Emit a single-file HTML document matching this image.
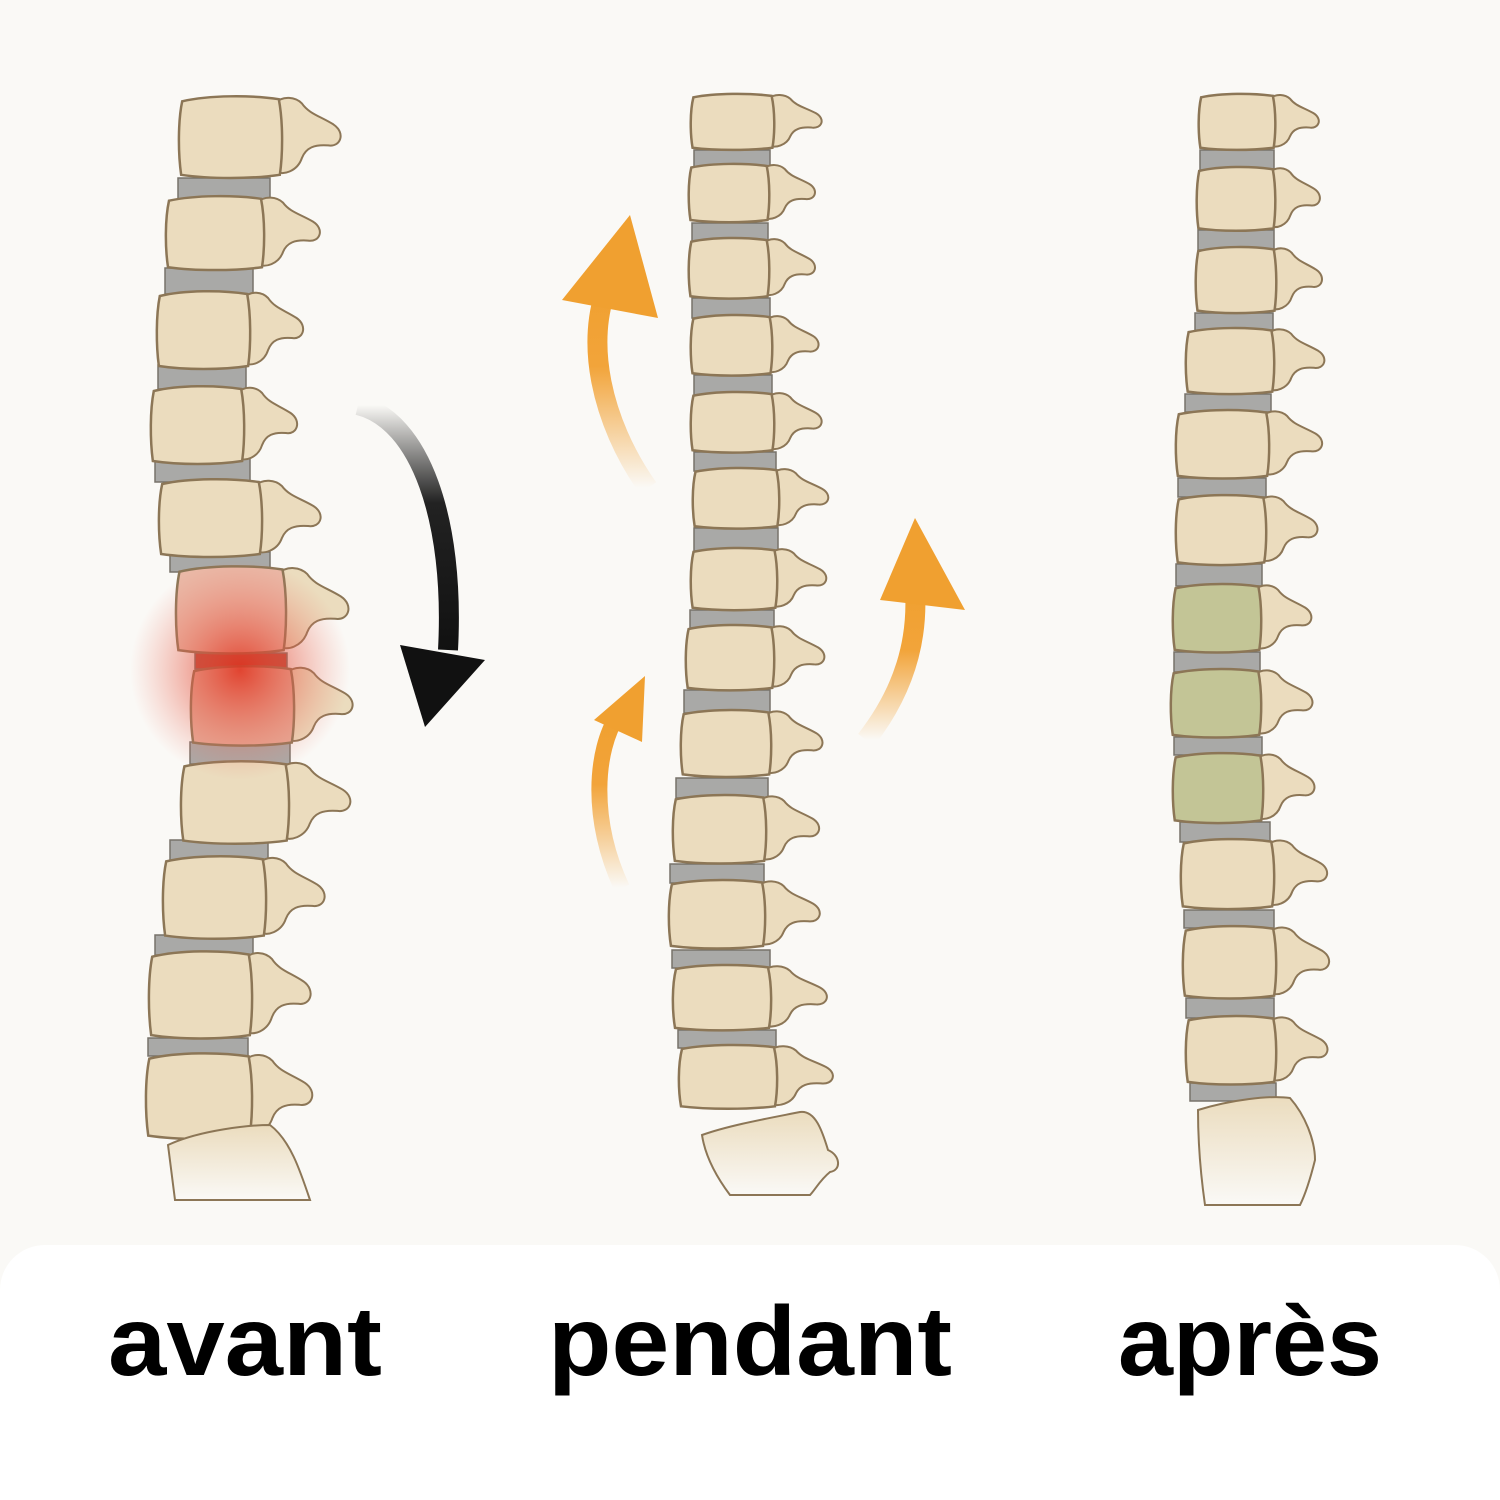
<!DOCTYPE html>
<html><head><meta charset="utf-8"><style>
html,body{margin:0;padding:0;background:#faf9f6;}
svg{display:block}
text{font-family:"Liberation Sans",sans-serif;font-weight:bold;fill:#000}
</style></head><body>
<svg width="1500" height="1500" viewBox="0 0 1500 1500" xmlns="http://www.w3.org/2000/svg">
<defs>
<path id="p" d="M92,8 C100,0 112,2 118,8 C125,18 135,20 148,28 C160,36 155,50 143,48 C130,47 122,50 118,60 C114,72 100,78 92,72 Z" fill="#ebdcbe" stroke="#8c7656" stroke-width="2" vector-effect="non-scaling-stroke"/>
<path id="b" d="M4,6 C30,0 70,0 96,4 C100,25 100,55 97,76 C70,80 30,80 3,76 C0,55 0,25 4,6 Z" stroke="#8c7656" stroke-width="2.5" vector-effect="non-scaling-stroke"/>
<radialGradient id="glow" cx="0.5" cy="0.5" r="0.5">
<stop offset="0" stop-color="#e0321e" stop-opacity="0.85"/>
<stop offset="0.6" stop-color="#e86450" stop-opacity="0.35"/>
<stop offset="1" stop-color="#f08070" stop-opacity="0"/>
</radialGradient>
<linearGradient id="fadeB" x1="0" y1="0" x2="0" y2="1">
<stop offset="0" stop-color="#111" stop-opacity="0"/>
<stop offset="0.4" stop-color="#222"/>
<stop offset="1" stop-color="#111"/>
</linearGradient>
<linearGradient id="fadeO" x1="0" y1="1" x2="0" y2="0">
<stop offset="0" stop-color="#f2a43a" stop-opacity="0"/>
<stop offset="0.6" stop-color="#f2a43a"/>
<stop offset="1" stop-color="#f0a030"/>
</linearGradient>
<linearGradient id="sacF" x1="0" y1="0" x2="0" y2="1">
<stop offset="0" stop-color="#ebdcbe"/>
<stop offset="1" stop-color="#faf9f6"/>
</linearGradient>
</defs>

<g fill="#a9a9a7" stroke="#77736a" stroke-width="1.5">
<rect x="178" y="178" width="92" height="22"/>
<rect x="165" y="268" width="88" height="26"/>
<rect x="158" y="365" width="88" height="24"/>
<rect x="155" y="458" width="95" height="24"/>
<rect x="170" y="552" width="100" height="20"/>
<rect x="195" y="653" width="92" height="16" fill="#b84838"/>
<rect x="190" y="742" width="100" height="22"/>
<rect x="170" y="840" width="98" height="20"/>
<rect x="155" y="935" width="98" height="20"/>
<rect x="148" y="1038" width="100" height="18"/>
</g>
<g>
<g transform="translate(178,95) scale(1.05,1.05)"><use href="#p"/><use href="#b" fill="#ebdcbe"/></g>
<g transform="translate(165,195) scale(1.0,0.95)"><use href="#p"/><use href="#b" fill="#ebdcbe"/></g>
<g transform="translate(156,290) scale(0.95,1.0)"><use href="#p"/><use href="#b" fill="#ebdcbe"/></g>
<g transform="translate(150,385) scale(0.95,1.0)"><use href="#p"/><use href="#b" fill="#ebdcbe"/></g>
<g transform="translate(158,478) scale(1.05,1.0)"><use href="#p"/><use href="#b" fill="#ebdcbe"/></g>
<g transform="translate(175,565) scale(1.12,1.12)"><use href="#p"/><use href="#b" fill="#eab8a6"/></g>
<g transform="translate(190,665) scale(1.05,1.02)"><use href="#p"/><use href="#b" fill="#e6ab98"/></g>
<g transform="translate(180,760) scale(1.1,1.06)"><use href="#p"/><use href="#b" fill="#ebdcbe"/></g>
<g transform="translate(162,855) scale(1.05,1.06)"><use href="#p"/><use href="#b" fill="#ebdcbe"/></g>
<g transform="translate(148,950) scale(1.05,1.12)"><use href="#p"/><use href="#b" fill="#ebdcbe"/></g>
<g transform="translate(145,1052) scale(1.08,1.1)"><use href="#p"/><use href="#b" fill="#ebdcbe"/></g>
</g>
<path d="M168,1145 C200,1130 250,1125 270,1125 C290,1140 300,1170 310,1200 L175,1200 Z" fill="url(#sacF)" stroke="#8c7656" stroke-width="2"/>
<circle cx="240" cy="670" r="110" fill="url(#glow)"/>

<g fill="#a9a9a7" stroke="#77736a" stroke-width="1.5">
<rect x="694" y="150" width="76" height="18"/>
<rect x="692" y="223" width="76" height="18"/>
<rect x="692" y="298" width="78" height="20"/>
<rect x="694" y="375" width="78" height="20"/>
<rect x="694" y="452" width="82" height="19"/>
<rect x="694" y="528" width="84" height="23"/>
<rect x="690" y="610" width="84" height="18"/>
<rect x="684" y="690" width="86" height="23"/>
<rect x="676" y="778" width="92" height="20"/>
<rect x="670" y="864" width="94" height="19"/>
<rect x="672" y="950" width="98" height="18"/>
<rect x="678" y="1030" width="98" height="18"/>
</g>
<g>
<g transform="translate(690,93) scale(0.85,0.72)"><use href="#p"/><use href="#b" fill="#ebdcbe"/></g>
<g transform="translate(688,163) scale(0.82,0.75)"><use href="#p"/><use href="#b" fill="#ebdcbe"/></g>
<g transform="translate(688,237) scale(0.82,0.78)"><use href="#p"/><use href="#b" fill="#ebdcbe"/></g>
<g transform="translate(690,314) scale(0.83,0.78)"><use href="#p"/><use href="#b" fill="#ebdcbe"/></g>
<g transform="translate(690,391) scale(0.85,0.78)"><use href="#p"/><use href="#b" fill="#ebdcbe"/></g>
<g transform="translate(692,467) scale(0.88,0.78)"><use href="#p"/><use href="#b" fill="#ebdcbe"/></g>
<g transform="translate(690,547) scale(0.88,0.8)"><use href="#p"/><use href="#b" fill="#ebdcbe"/></g>
<g transform="translate(685,624) scale(0.9,0.84)"><use href="#p"/><use href="#b" fill="#ebdcbe"/></g>
<g transform="translate(680,709) scale(0.92,0.86)"><use href="#p"/><use href="#b" fill="#ebdcbe"/></g>
<g transform="translate(672,794) scale(0.95,0.88)"><use href="#p"/><use href="#b" fill="#ebdcbe"/></g>
<g transform="translate(668,879) scale(0.98,0.88)"><use href="#p"/><use href="#b" fill="#ebdcbe"/></g>
<g transform="translate(672,964) scale(1.0,0.84)"><use href="#p"/><use href="#b" fill="#ebdcbe"/></g>
<g transform="translate(678,1044) scale(1.0,0.82)"><use href="#p"/><use href="#b" fill="#ebdcbe"/></g>
</g>
<path d="M702,1135 C730,1125 770,1118 800,1112 C815,1110 822,1130 828,1150 C840,1155 842,1170 830,1172 C820,1180 815,1190 810,1195 L730,1195 C715,1175 705,1155 702,1135 Z" fill="url(#sacF)" stroke="#8c7656" stroke-width="2"/>

<g fill="#a9a9a7" stroke="#77736a" stroke-width="1.5">
<rect x="1200" y="150" width="74" height="20"/>
<rect x="1198" y="230" width="76" height="20"/>
<rect x="1195" y="313" width="78" height="18"/>
<rect x="1185" y="394" width="86" height="18"/>
<rect x="1178" y="478" width="88" height="19"/>
<rect x="1176" y="564" width="86" height="22"/>
<rect x="1174" y="652" width="86" height="20"/>
<rect x="1174" y="737" width="88" height="18"/>
<rect x="1180" y="822" width="90" height="20"/>
<rect x="1184" y="910" width="90" height="18"/>
<rect x="1186" y="998" width="88" height="20"/>
<rect x="1190" y="1083" width="86" height="18"/>
</g>
<g>
<g transform="translate(1198,93) scale(0.78,0.72)"><use href="#p"/><use href="#b" fill="#ebdcbe"/></g>
<g transform="translate(1196,166) scale(0.8,0.82)"><use href="#p"/><use href="#b" fill="#ebdcbe"/></g>
<g transform="translate(1195,246) scale(0.82,0.85)"><use href="#p"/><use href="#b" fill="#ebdcbe"/></g>
<g transform="translate(1185,327) scale(0.9,0.85)"><use href="#p"/><use href="#b" fill="#ebdcbe"/></g>
<g transform="translate(1175,409) scale(0.95,0.88)"><use href="#p"/><use href="#b" fill="#ebdcbe"/></g>
<g transform="translate(1175,494) scale(0.92,0.9)"><use href="#p"/><use href="#b" fill="#ebdcbe"/></g>
<g transform="translate(1172,583) scale(0.9,0.88)"><use href="#p"/><use href="#b" fill="#c3c596"/></g>
<g transform="translate(1170,668) scale(0.92,0.88)"><use href="#p"/><use href="#b" fill="#c3c596"/></g>
<g transform="translate(1172,752) scale(0.92,0.9)"><use href="#p"/><use href="#b" fill="#c3c596"/></g>
<g transform="translate(1180,838) scale(0.95,0.9)"><use href="#p"/><use href="#b" fill="#ebdcbe"/></g>
<g transform="translate(1182,925) scale(0.95,0.93)"><use href="#p"/><use href="#b" fill="#ebdcbe"/></g>
<g transform="translate(1185,1015) scale(0.92,0.88)"><use href="#p"/><use href="#b" fill="#ebdcbe"/></g>
</g>
<path d="M1198,1110 C1230,1100 1270,1095 1290,1098 C1305,1115 1315,1140 1315,1160 C1310,1180 1305,1195 1300,1205 L1205,1205 C1200,1170 1198,1140 1198,1110 Z" fill="url(#sacF)" stroke="#8c7656" stroke-width="2"/>

<path d="M358,405 C420,420 455,520 448,650" fill="none" stroke="url(#fadeB)" stroke-width="20" stroke-linecap="butt"/>
<path d="M400,645 L485,660 L425,727 Z" fill="#111"/>

<path d="M648,488 C600,420 585,340 608,285" fill="none" stroke="url(#fadeO)" stroke-width="20"/>
<path d="M562,300 L630,215 L658,318 Z" fill="#f0a030"/>
<path d="M622,888 C590,820 595,750 618,715" fill="none" stroke="url(#fadeO)" stroke-width="16"/>
<path d="M594,720 L645,676 L642,742 Z" fill="#f0a030"/>
<path d="M866,740 C905,690 918,640 915,590" fill="none" stroke="url(#fadeO)" stroke-width="20"/>
<path d="M880,600 L915,518 L965,610 Z" fill="#f0a030"/>

<rect x="0" y="1245" width="1500" height="300" rx="45" fill="#ffffff"/>
<text x="108" y="1375" font-size="98" textLength="274" lengthAdjust="spacingAndGlyphs">avant</text>
<text x="548" y="1375" font-size="98" textLength="404" lengthAdjust="spacingAndGlyphs">pendant</text>
<text x="1118" y="1375" font-size="98" textLength="264" lengthAdjust="spacingAndGlyphs">après</text>
</svg>
</body></html>
